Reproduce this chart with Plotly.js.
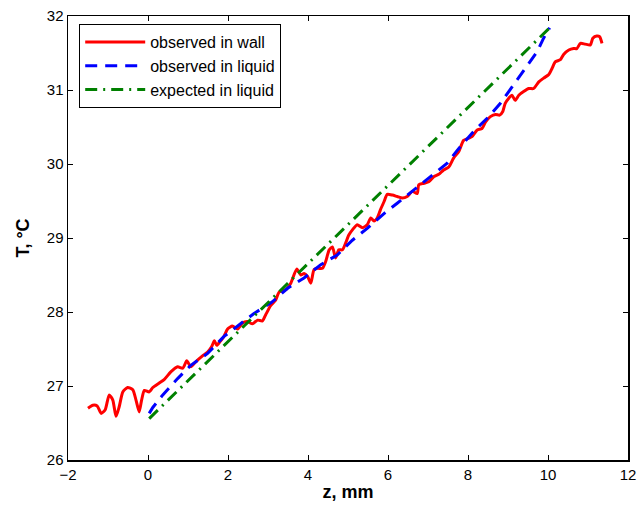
<!DOCTYPE html>
<html><head><meta charset="utf-8">
<script src="https://cdn.plot.ly/plotly-3.0.1.min.js"></script>
<style>body{margin:0;padding:0;background:#fff}</style>
</head><body><div id="chart" style="width:641px;height:507px"></div>
<script>
const wallZ = [-1.50,-1.38,-1.27,-1.17,-1.07,-0.97,-0.88,-0.80,-0.72,-0.63,-0.51,-0.38,-0.30,-0.22,-0.16,-0.09,0.03,0.12,0.28,0.41,0.57,0.74,0.87,0.97,1.07,1.20,1.37,1.49,1.59,1.66,1.72,1.80,1.90,1.99,2.11,2.24,2.36,2.49,2.61,2.74,2.86,2.94,3.07,3.19,3.28,3.44,3.57,3.72,3.82,3.90,3.99,4.07,4.15,4.24,4.36,4.44,4.53,4.61,4.69,4.77,4.86,4.94,5.02,5.11,5.23,5.36,5.48,5.57,5.65,5.73,5.81,5.90,5.98,6.11,6.23,6.36,6.48,6.61,6.73,6.77,6.90,7.02,7.15,7.27,7.39,7.52,7.64,7.77,7.89,8.02,8.10,8.23,8.35,8.44,8.56,8.69,8.79,8.87,8.93,9.02,9.10,9.18,9.27,9.39,9.52,9.64,9.77,9.89,10.02,10.10,10.18,10.31,10.39,10.52,10.64,10.72,10.81,10.93,11.06,11.12,11.22,11.29,11.35];
const wallT = [26.70,26.74,26.73,26.63,26.68,26.88,26.81,26.59,26.72,26.92,26.98,26.95,26.81,26.65,26.81,26.94,26.92,26.98,27.04,27.09,27.19,27.26,27.24,27.34,27.26,27.33,27.41,27.46,27.53,27.61,27.55,27.60,27.67,27.77,27.81,27.77,27.85,27.87,27.84,27.89,27.88,27.96,28.09,28.16,28.27,28.30,28.39,28.58,28.50,28.52,28.48,28.39,28.57,28.59,28.59,28.68,28.84,28.88,28.73,28.84,28.84,28.93,29.04,29.11,29.18,29.14,29.18,29.27,29.23,29.27,29.38,29.49,29.59,29.58,29.56,29.54,29.56,29.63,29.60,29.72,29.74,29.76,29.83,29.86,29.92,29.96,30.08,30.17,30.32,30.35,30.37,30.46,30.48,30.57,30.64,30.67,30.66,30.71,30.82,30.89,30.93,30.86,30.93,30.98,31.02,31.02,31.11,31.16,31.21,31.29,31.38,31.41,31.48,31.54,31.56,31.56,31.63,31.62,31.61,31.70,31.73,31.72,31.63];
const liquidZ = [0.03,0.12,0.37,0.74,1.07,1.49,1.90,2.32,2.65,3.09,3.49,3.90,4.32,4.73,5.11,5.48,5.90,6.23,6.65,7.06,7.48,7.74,8.14,8.52,8.81,9.14,9.43,9.73,9.89,10.04];
const liquidT = [26.63,26.71,26.88,27.10,27.28,27.44,27.67,27.85,27.98,28.13,28.32,28.46,28.64,28.77,28.97,29.13,29.33,29.47,29.65,29.83,30.01,30.19,30.44,30.64,30.82,31.07,31.29,31.52,31.70,31.84];
const expectedZ = [0.03, 10.04];
const expectedT = [26.56, 31.84];
const xTicks = [-2,0,2,4,6,8,10,12];
const yTicks = [26,27,28,29,30,31,32];

const FONT = 'Liberation Sans, Arial, sans-serif';
const traces = [
  {x: wallZ, y: wallT, mode:'lines', name:'observed in wall', line:{color:'#ff0000', width:3, shape:'spline', smoothing:0.6}},
  {x: liquidZ, y: liquidT, mode:'lines', name:'observed in liquid', line:{color:'#0000ff', width:3, dash:'12px,8px'}},
  {x: expectedZ, y: expectedT, mode:'lines', name:'expected in liquid', line:{color:'#008000', width:3, dash:'12px,6px,2px,6px'}}
];
const axisBase = {showline:true, mirror:'ticks', linecolor:'#000', linewidth:1.5, ticks:'inside', ticklen:5, tickcolor:'#000', showgrid:false, zeroline:false, tickfont:{family:FONT, size:15, color:'#000'}};
const layout = {
  width:641, height:507,
  margin:{l:68, r:13, t:16, b:47},
  paper_bgcolor:'#fff', plot_bgcolor:'#fff',
  showlegend:true,
  legend:{x:0.02, y:0.982, xanchor:'left', yanchor:'top', bordercolor:'#000', borderwidth:1, bgcolor:'#fff', font:{family:FONT, size:16, color:'#000'}, tracegroupgap:0, itemwidth:60},
  xaxis: Object.assign({}, axisBase, {range:[-2,12], tickvals:xTicks, ticktext:xTicks.map(v=>v<0?'\u2212'+Math.abs(v):String(v)), title:{text:'<b>z, mm</b>', font:{family:FONT, size:18, color:'#000'}, standoff:4}}),
  yaxis: Object.assign({}, axisBase, {range:[26,32], tickvals:yTicks, ticktext:yTicks.map(String), title:{text:'<b>T, °C</b>', font:{family:FONT, size:18, color:'#000'}, standoff:12}})
};
Plotly.newPlot('chart', traces, layout, {displayModeBar:false, staticPlot:true});
</script></body></html>
